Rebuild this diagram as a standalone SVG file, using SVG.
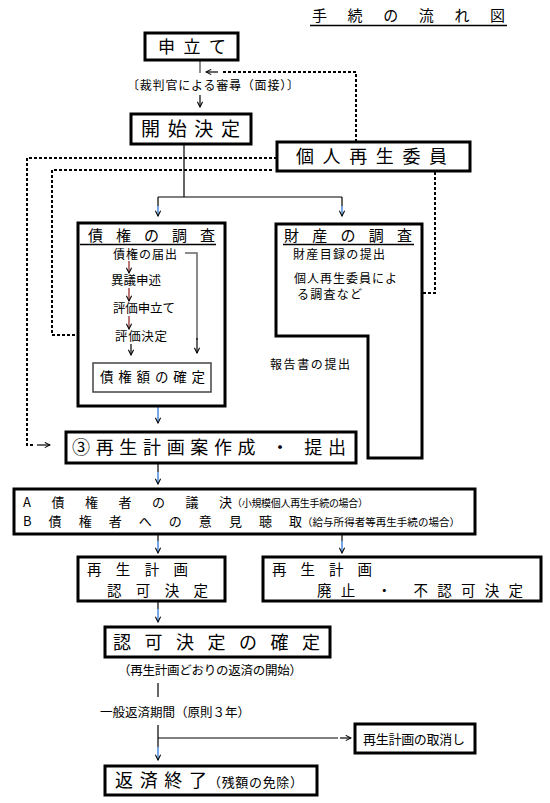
<svg xmlns="http://www.w3.org/2000/svg" width="550" height="803" viewBox="0 0 550 803">
<style>
.bg{fill:#fff}
.box{fill:#fff;stroke:#000;stroke-width:3}
.thin{fill:#fff;stroke:#444;stroke-width:1.5}
.t{font-family:"Noto Sans CJK JP","Noto Sans CJK SC",sans-serif;fill:#000}
.ln{fill:none;stroke:#000;stroke-width:1.2}
.gl{fill:none;stroke:#666;stroke-width:1.5}
.ds{fill:none;stroke:#000;stroke-width:2;stroke-dasharray:3 2}
.bl{fill:none;stroke:#2a78d6;stroke-width:1.3}
.rd{fill:none;stroke:#8b1a1a;stroke-width:1.2}
</style>
<defs>
<marker id="ah" viewBox="0 0 8 8" refX="7" refY="4" markerWidth="7" markerHeight="7" markerUnits="userSpaceOnUse" orient="auto">
<path d="M1,1 L7,4 L1,7" fill="none" stroke="#000" stroke-width="1.2"/>
</marker>
</defs>
<rect class="bg" width="550" height="803"/>

<g id="title">
<text class="t" x="312" y="21" font-size="15" textLength="193" lengthAdjust="spacing">手続の流れ図</text>
<line x1="310" y1="25.5" x2="507" y2="25.5" stroke="#000" stroke-width="1.5"/>
</g>

<g id="connectors">
<line class="gl" x1="200" y1="60" x2="200" y2="73"/>
<line class="ln" x1="200" y1="95" x2="200" y2="107" marker-end="url(#ah)"/>
<path class="ln" d="M184,144 V197 M158,197 H342 M158,197 V206 M342,197 V206"/>
<line class="bl" x1="158" y1="206" x2="158" y2="216" marker-end="url(#ah)"/>
<line class="bl" x1="342" y1="206" x2="342" y2="216" marker-end="url(#ah)"/>
<path class="ds" d="M356,142 V72 H221"/>
<line class="ln" x1="218" y1="72" x2="206" y2="72" marker-end="url(#ah)"/>
<path class="ds" d="M277,158 H27 V445 H33"/>
<line class="ln" x1="37" y1="445" x2="50" y2="445" marker-end="url(#ah)"/>
<path class="ds" d="M272,170 H52 V335 H83"/>
<line class="ln" x1="88" y1="335" x2="101" y2="335" marker-end="url(#ah)"/>
<path class="ds" d="M435,172 V293 H397"/>
<line class="ln" x1="389" y1="293" x2="377" y2="293" marker-end="url(#ah)"/>
<line class="bl" x1="158" y1="407" x2="158" y2="423" marker-end="url(#ah)"/>
<line class="ln" x1="158" y1="464" x2="158" y2="472"/>
<line class="bl" x1="158" y1="472" x2="158" y2="484" marker-end="url(#ah)"/>
<line class="ln" x1="158" y1="534" x2="158" y2="541"/>
<line class="bl" x1="158" y1="541" x2="158" y2="553" marker-end="url(#ah)"/>
<line class="ln" x1="342" y1="534" x2="342" y2="541"/>
<line class="bl" x1="342" y1="541" x2="342" y2="553" marker-end="url(#ah)"/>
<line class="ln" x1="158" y1="601" x2="158" y2="609"/>
<line class="bl" x1="158" y1="609" x2="158" y2="622" marker-end="url(#ah)"/>
<line class="ln" x1="158" y1="683" x2="158" y2="697"/>
<path class="ln" d="M158,725 V747 M158,738 H338"/>
<line class="ln" x1="340" y1="738" x2="351" y2="738" marker-end="url(#ah)"/>
<line class="bl" x1="158" y1="747" x2="158" y2="760" marker-end="url(#ah)"/>
</g>

<g id="moushitate">
<rect class="box" x="145" y="33" width="93" height="27"/>
<text class="t" x="158" y="53" font-size="17" textLength="68" lengthAdjust="spacing">申立て</text>
</g>

<g id="shinjin">
<text class="t" x="127" y="90" font-size="12" textLength="172" lengthAdjust="spacing">〔裁判官による審尋（面接）〕</text>
</g>

<g id="kaishi">
<rect class="box" x="131" y="114" width="120" height="30"/>
<text class="t" x="141" y="136" font-size="19" textLength="99" lengthAdjust="spacing">開始決定</text>
</g>

<g id="kojin">
<rect class="box" x="277" y="142" width="193" height="29"/>
<text class="t" x="296" y="163" font-size="18" textLength="151" lengthAdjust="spacing">個人再生委員</text>
</g>

<g id="saiken">
<rect class="box" x="78" y="223" width="147" height="183"/>
<text class="t" x="88" y="241" font-size="15" textLength="127" lengthAdjust="spacing">債権の調査</text>
<line x1="80" y1="244.5" x2="216" y2="244.5" stroke="#000" stroke-width="1.5"/>
<text class="t" x="113" y="259" font-size="12" textLength="64" lengthAdjust="spacing">債権の届出</text>
<path class="gl" d="M185,253 H197 V340"/>
<line class="ln" x1="197" y1="338" x2="197" y2="353" marker-end="url(#ah)"/>
<line class="rd" x1="129" y1="261" x2="129" y2="273" marker-end="url(#ah)"/>
<text class="t" x="111" y="285" font-size="12.5" textLength="50" lengthAdjust="spacing">異議申述</text>
<line class="rd" x1="129" y1="288" x2="129" y2="301" marker-end="url(#ah)"/>
<text class="t" x="113" y="313" font-size="12.5" textLength="62" lengthAdjust="spacing">評価申立て</text>
<line class="rd" x1="129" y1="316" x2="129" y2="329" marker-end="url(#ah)"/>
<text class="t" x="115" y="341" font-size="12.5" textLength="52" lengthAdjust="spacing">評価決定</text>
<line class="ln" x1="131" y1="344" x2="131" y2="355" marker-end="url(#ah)"/>
<rect class="thin" x="93" y="363" width="118" height="29"/>
<text class="t" x="100" y="382" font-size="13.5" textLength="105" lengthAdjust="spacing">債権額の確定</text>
</g>

<g id="zaisan">
<path class="box" d="M276,224 H422 V458 H368 V336 H276 Z"/>
<text class="t" x="284" y="241" font-size="15" textLength="128" lengthAdjust="spacing">財産の調査</text>
<line x1="283" y1="244.5" x2="414" y2="244.5" stroke="#000" stroke-width="1.5"/>
<text class="t" x="293" y="259" font-size="12" textLength="92" lengthAdjust="spacing">財産目録の提出</text>
<text class="t" x="294" y="283" font-size="12" textLength="103" lengthAdjust="spacing">個人再生委員によ</text>
<text class="t" x="297" y="299" font-size="12" textLength="65" lengthAdjust="spacing">る調査など</text>
</g>

<g id="houkoku">
<text class="t" x="270" y="369" font-size="12" textLength="80" lengthAdjust="spacing">報告書の提出</text>
</g>

<g id="keikakuan">
<rect class="box" x="66" y="432" width="290" height="31"/>
<text class="t" x="72" y="454" font-size="18" textLength="274" lengthAdjust="spacing">③再生計画案作成 ・ 提出</text>
</g>

<g id="giketsu">
<rect class="box" x="14" y="489" width="461" height="45"/>
<text class="t" x="23" y="507" font-size="13" textLength="209" lengthAdjust="spacing">A債権者の議決</text>
<text class="t" x="232" y="507" font-size="10" textLength="136" lengthAdjust="spacing">（小規模個人再生手続の場合）</text>
<text class="t" x="23" y="526" font-size="13" textLength="279" lengthAdjust="spacing">B債権者への意見聴取</text>
<text class="t" x="302" y="526" font-size="10.5" textLength="158" lengthAdjust="spacing">（給与所得者等再生手続の場合）</text>
</g>

<g id="ninka">
<rect class="box" x="78" y="557" width="147" height="44"/>
<text class="t" x="87" y="575" font-size="14.5" textLength="101" lengthAdjust="spacing">再生計画</text>
<text class="t" x="107" y="596" font-size="14.5" textLength="101" lengthAdjust="spacing">認可決定</text>
</g>

<g id="haishi">
<rect class="box" x="263" y="557" width="278" height="44"/>
<text class="t" x="272" y="575" font-size="14.5" textLength="100" lengthAdjust="spacing">再生計画</text>
<text class="t" x="317" y="596" font-size="14.5" textLength="206" lengthAdjust="spacing">廃止 ・ 不認可決定</text>
</g>

<g id="kakutei">
<rect class="box" x="105" y="627" width="225" height="30"/>
<text class="t" x="113" y="649" font-size="18" textLength="207" lengthAdjust="spacing">認可決定の確定</text>
</g>

<g id="hensai-kaishi">
<text class="t" x="118" y="675" font-size="12.5" textLength="184" lengthAdjust="spacing">（再生計画どおりの返済の開始）</text>
</g>

<g id="kikan">
<text class="t" x="100" y="717" font-size="12.5" textLength="150" lengthAdjust="spacing">一般返済期間（原則３年）</text>
</g>

<g id="torikeshi">
<rect class="box" x="355" y="724" width="120" height="29"/>
<text class="t" x="363" y="744" font-size="13" textLength="102" lengthAdjust="spacing">再生計画の取消し</text>
</g>

<g id="shuryo">
<rect class="box" x="105" y="766" width="212" height="29"/>
<text class="t" x="115" y="787" font-size="18" textLength="92" lengthAdjust="spacing">返済終了</text>
<text class="t" x="208" y="787" font-size="13" textLength="95" lengthAdjust="spacing">（残額の免除）</text>
</g>
</svg>
